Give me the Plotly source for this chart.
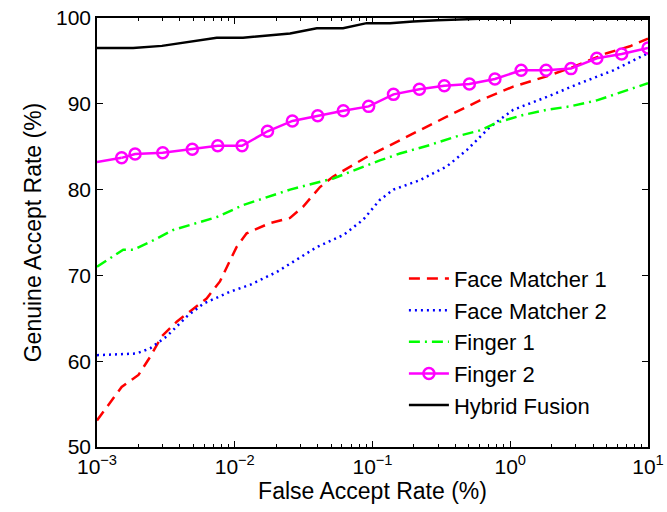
import plotly.graph_objects as go

# False Accept Rate (%) and Genuine Accept Rate (%) per matcher
face1_far = [0.001, 0.00151, 0.0020, 0.00243, 0.00295, 0.00379, 0.00473, 0.00625, 0.00781, 0.00924,
             0.0103, 0.0122, 0.0180, 0.0252, 0.0313, 0.0416, 0.0516, 0.0907, 0.12, 0.221, 0.346,
             0.603, 1.05, 1.84, 2.86, 5.02, 7.40, 10.0]
face1_gar = [53.1, 57.0, 58.4, 60.5, 62.9, 64.6, 65.8, 67.3, 69.3, 71.8,
             73.3, 74.9, 76.1, 76.7, 78.0, 80.3, 81.5, 83.8, 84.8, 86.9, 88.5,
             90.4, 92.0, 93.2, 94.3, 95.9, 96.7, 97.6]

face2_far = [0.001, 0.00194, 0.00243, 0.00321, 0.00448, 0.00591, 0.00924, 0.0129, 0.0202, 0.0282,
             0.0394, 0.0614, 0.0857, 0.113, 0.142, 0.221, 0.346, 0.483, 0.713, 1.05, 1.84,
             3.21, 5.60, 10.0]
face2_gar = [60.7, 60.9, 61.5, 62.9, 65.2, 66.7, 68.1, 68.9, 70.4, 71.8,
             73.3, 74.7, 76.5, 78.8, 80.0, 81.1, 82.7, 84.6, 87.3, 89.3, 90.8,
             92.4, 93.9, 95.9]

finger1_far = [0.001, 0.00155, 0.00184, 0.00243, 0.00358, 0.0074, 0.01153, 0.0252, 0.0519, 0.113,
               0.158, 0.261, 0.408, 0.603, 0.798, 1.24, 1.84, 2.72, 4.25, 6.62, 10.0]
finger1_gar = [71.0, 73.0, 73.0, 73.9, 75.3, 76.8, 78.2, 80.0, 81.3, 83.4,
               84.2, 85.2, 86.2, 86.9, 87.8, 88.7, 89.3, 89.7, 90.4, 91.4, 92.4]

finger2_far = [0.00151, 0.00189, 0.0030, 0.00492, 0.00752, 0.0113, 0.0173, 0.0262, 0.0400, 0.0614,
               0.0938, 0.142, 0.219, 0.332, 0.505, 0.774, 1.20, 1.82, 2.76, 4.25, 6.44, 10.0]
finger2_gar = [83.7, 84.15, 84.3, 84.7, 85.1, 85.1, 86.8, 88.0, 88.6, 89.2,
               89.7, 91.1, 91.7, 92.1, 92.3, 92.9, 93.9, 93.9, 94.1, 95.3, 95.8, 96.5]
finger2_start_far = [0.001, 0.00151]
finger2_start_gar = [83.2, 83.7]

hybrid_far = [0.001, 0.00183, 0.00296, 0.00535, 0.0074, 0.01148, 0.0252, 0.0394, 0.0611, 0.0907,
              0.134, 0.197, 0.294, 0.603, 10.0]
hybrid_gar = [96.5, 96.5, 96.75, 97.35, 97.7, 97.7, 98.2, 98.8, 98.8, 99.4,
              99.4, 99.6, 99.75, 99.9, 99.9]

x_tickvals = [0.001, 0.01, 0.1, 1, 10]
x_ticktext = ["10<sup>\u22123</sup>", "10<sup>\u22122</sup>", "10<sup>\u22121</sup>",
              "10<sup>0</sup>", "10<sup>1</sup>"]
y_tickvals = [50, 60, 70, 80, 90, 100]

FONT = "Liberation Sans, Arial, sans-serif"

fig = go.Figure()
fig.add_trace(go.Scatter(x=face1_far, y=face1_gar, mode="lines", name="Face Matcher 1",
                         line=dict(color="#ff0000", width=2.5, dash="11px,7px")))
fig.add_trace(go.Scatter(x=face2_far, y=face2_gar, mode="lines", name="Face Matcher 2",
                         line=dict(color="#0000ff", width=2.5, dash="2px,4px")))
fig.add_trace(go.Scatter(x=finger1_far, y=finger1_gar, mode="lines", name="Finger 1",
                         line=dict(color="#00ff00", width=2.5, dash="11px,5px,2px,5px")))
fig.add_trace(go.Scatter(x=finger2_start_far, y=finger2_start_gar, mode="lines", showlegend=False,
                         line=dict(color="#ff00ff", width=2.5)))
fig.add_trace(go.Scatter(x=finger2_far, y=finger2_gar, mode="lines+markers", name="Finger 2",
                         line=dict(color="#ff00ff", width=2.5),
                         marker=dict(symbol="circle-open", size=11, color="#ff00ff",
                                     line=dict(width=2.5, color="#ff00ff"))))
fig.add_trace(go.Scatter(x=hybrid_far, y=hybrid_gar, mode="lines", name="Hybrid Fusion",
                         line=dict(color="#000000", width=2.5)))

fig.update_layout(
    width=667, height=512,
    margin=dict(l=97, r=19, t=18, b=65, autoexpand=False),
    paper_bgcolor="white", plot_bgcolor="white",
    font=dict(family=FONT, color="black", size=21),
    legend=dict(x=0.557, y=0.441, xanchor="left", yanchor="top",
                bgcolor="rgba(0,0,0,0)", font=dict(size=22, family=FONT),
                tracegroupgap=0, itemwidth=40),
    xaxis=dict(type="log", range=[-3, 1], tickvals=x_tickvals, ticktext=x_ticktext,
               automargin=False,
               ticks="inside", ticklen=6, tickwidth=1.2, tickcolor="black",
               showline=True, linecolor="black", linewidth=1.5, mirror="allticks",
               showgrid=False, zeroline=False,
               minor=dict(ticks="inside", ticklen=3, tickcolor="black", dtick="D1", showgrid=False),
               title=dict(text="False Accept Rate (%)", font=dict(size=23), standoff=2),
               tickfont=dict(size=21)),
    yaxis=dict(range=[50, 100], tickvals=y_tickvals,
               automargin=False,
               ticks="inside", ticklen=6, tickwidth=1.2, tickcolor="black",
               showline=True, linecolor="black", linewidth=1.5, mirror="allticks",
               showgrid=False, zeroline=False,
               title=dict(text="Genuine Accept Rate (%)", font=dict(size=23), standoff=8),
               tickfont=dict(size=21)),
)

fig.write_html("out.html")
